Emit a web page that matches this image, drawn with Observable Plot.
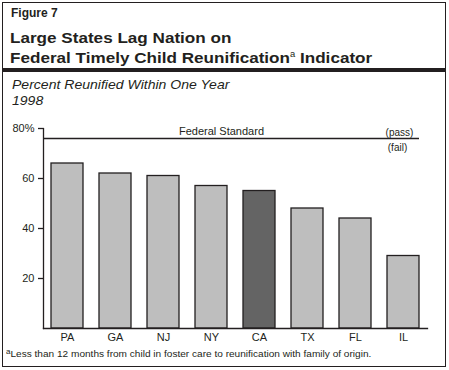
<!DOCTYPE html>
<html><head><meta charset="utf-8">
<script src="https://cdn.jsdelivr.net/npm/d3@7"></script>
<script src="https://cdn.jsdelivr.net/npm/@observablehq/plot@0.6"></script>
<style>
body{margin:0;background:#fff;font-family:"Liberation Sans",Arial,Helvetica,sans-serif;color:#231f20}
#fig{position:relative;width:449px;height:370px;overflow:hidden;background:#fff}
#frame{position:absolute;left:2px;top:2px;width:442px;height:363px;border:1.5px solid #231f20;box-sizing:content-box}
.t{position:absolute;white-space:nowrap;line-height:1;transform-origin:left center}
#bar{position:absolute;left:3px;top:68px;width:443px;height:4px;background:#231f20}
#chart{position:absolute;left:0;top:110px}
.sup{position:relative;font-size:0.55em;top:-0.75em;font-weight:normal}
</style></head>
<body>
<div id="fig">
  <div id="frame"></div>
  <div class="t" style="left:11px;top:6.8px;font-size:12px;font-weight:bold">Figure 7</div>
  <div class="t" style="left:10px;top:29.8px;font-size:15px;font-weight:bold;transform:scaleX(1.14)">Large States Lag Nation on</div>
  <div class="t" style="left:10px;top:50.2px;font-size:15px;font-weight:bold;transform:scaleX(1.14)">Federal Timely Child Reunification<span class="sup">a</span> Indicator</div>
  <div id="bar"></div>
  <div class="t" style="left:12px;top:78px;font-size:13px;font-style:italic;transform:scaleX(1.08)">Percent Reunified Within One Year</div>
  <div class="t" style="left:12px;top:94px;font-size:13px;font-style:italic;transform:scaleX(1.08)">1998</div>
  <div id="chart"></div>
  <div class="t" style="left:6px;top:350.4px;font-size:9px;transform:scaleX(1.12)"><span class="sup" style="font-size:0.8em;top:-0.45em">a</span>Less than 12 months from child in foster care to reunification with family of origin.</div>
</div>
<script>
const states = ["PA", "GA", "NJ", "NY", "CA", "TX", "FL", "IL"];
const percents = [66, 62, 61, 57, 55, 48, 44, 29];
const highlightState = "CA";
const federalStandard = 76;
const yTicks = [20, 40, 60, 80];
const standardLabel = "Federal Standard";
const passLabel = "(pass)";
const failLabel = "(fail)";

const rows = states.map((s, i) => ({state: s, pct: percents[i]}));
const ink = "#231f20";

const chart = Plot.plot({
  width: 449,
  height: 240,
  marginLeft: 43,
  marginRight: 22,
  marginTop: 18,
  marginBottom: 22,
  style: {fontFamily: "'Liberation Sans', Arial, sans-serif", fontSize: "11px", color: ink, background: "transparent", overflow: "visible"},
  x: {domain: states, paddingInner: 0.333, paddingOuter: 0.16, axis: null, label: null},
  y: {domain: [0, 80], axis: null, label: null},
  marks: [
    Plot.barY(rows.filter(d => d.state !== highlightState), {x: "state", y: "pct", fill: "#bebebe", stroke: ink, strokeWidth: 1.3}),
    Plot.barY(rows.filter(d => d.state === highlightState), {x: "state", y: "pct", fill: "#646464", stroke: ink, strokeWidth: 1.3}),
    Plot.ruleY([federalStandard], {stroke: ink, strokeWidth: 1.3, insetRight: 8}),
    Plot.text([standardLabel], {x: () => "NY", y: () => federalStandard, text: d => d, dx: 10, dy: -4, lineAnchor: "bottom", fontSize: 11, fill: ink}),
    Plot.text([passLabel], {x: () => "IL", y: () => federalStandard, text: d => d, dx: -4, dy: -3, lineAnchor: "bottom", fontSize: 10, fill: ink}),
    Plot.text([failLabel], {x: () => "IL", y: () => federalStandard, text: d => d, dx: -6, dy: 12, lineAnchor: "bottom", fontSize: 10, fill: ink}),
    Plot.frame({anchor: "left", stroke: ink, strokeWidth: 1.3}),
    Plot.frame({anchor: "bottom", stroke: ink, strokeWidth: 1.3}),
    Plot.axisX({tickSize: 0, tickPadding: 5, fontSize: 11, fill: ink, label: null}),
    Plot.axisY({ticks: yTicks, tickSize: 5, tickPadding: 4, fontSize: 11, fill: ink, stroke: ink, strokeWidth: 1.3, label: null, tickFormat: d => d === 80 ? "80%" : String(d)})
  ]
});
document.getElementById("chart").appendChild(chart);
</script>
</body></html>
